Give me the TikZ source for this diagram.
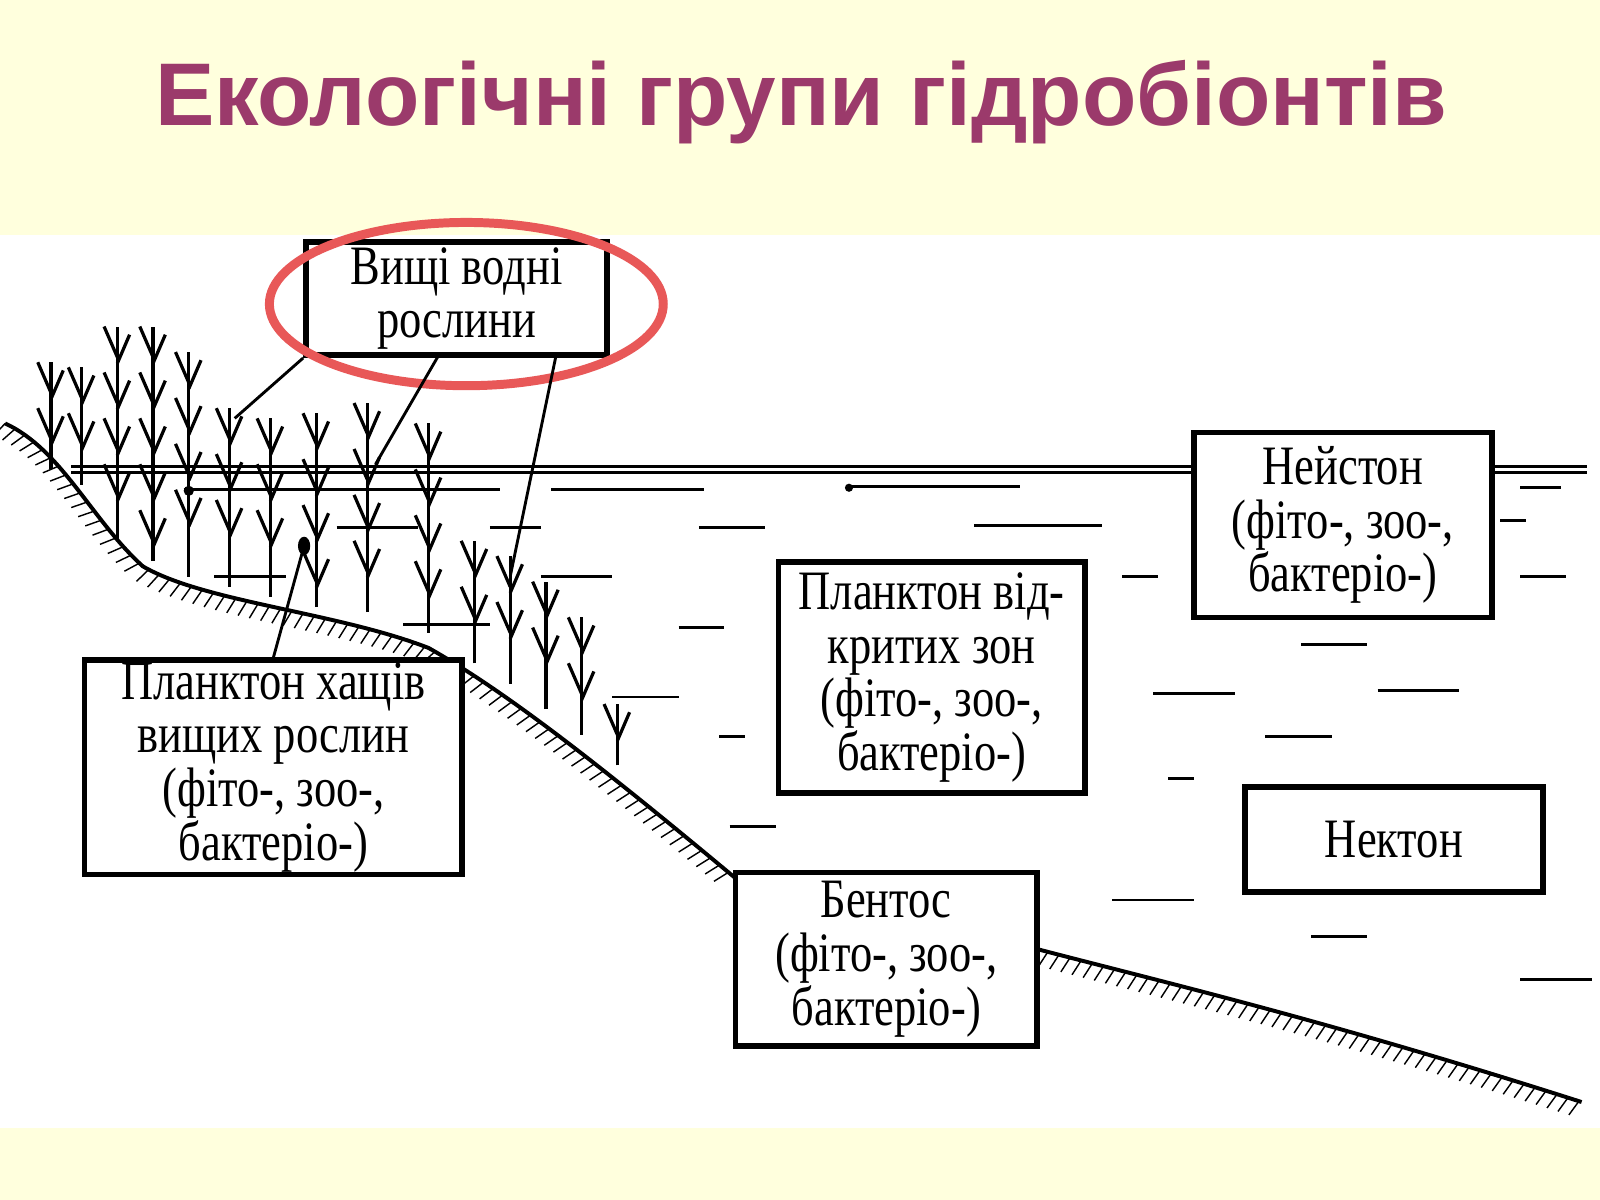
\documentclass[tikz,border=0pt]{standalone}
\usepackage{fontspec}
\setmainfont{Liberation Serif}
\newfontfamily\boxfont[FakeStretch=0.8]{Liberation Serif}
\newfontfamily\titlefont{Liberation Sans}
\usetikzlibrary{decorations.markings}
\definecolor{bgy}{HTML}{FFFFDD}
\definecolor{ttl}{HTML}{9B3A6B}
\definecolor{ring}{HTML}{E85858}
\tikzset{
 lbl/.style={draw,line width=1.6pt,align=center,font=\boxfont\fontsize{15.5}{15}\selectfont,inner sep=0pt},
 wl/.style={line width=0.8pt},
 shore/.style={line width=1.1pt,postaction={decorate},decoration={markings,mark=between positions 0 and 1 step 3.2pt with {\draw[line width=0.4pt] (0,0)--(-1.5pt,-4.5pt);}}},
 stem/.style={line width=0.9pt}
}
\newcommand{\plant}[3]{%
 \draw[stem] (#1,#2)--(#1,#3);
 \pgfmathsetmacro{\nb}{int((#2-#3)/45)-1}%
 \foreach \k in {0,...,\nb}{\pgfmathsetmacro{\yb}{#3+\k*45+30}
   \draw[stem] (#1,\yb)--++(-13,-30) (#1,\yb+6)--++(12,-28);}}
\begin{document}
\begin{tikzpicture}[x=0.01cm,y=-0.01cm]
\useasboundingbox (0,0) rectangle (1568,1176);
\fill[bgy] (0,0) rectangle (1568,230);
\fill[bgy] (0,1105) rectangle (1568,1176);
\node[text=ttl,font=\titlefont\bfseries\fontsize{24.8}{30}\selectfont] (title) at (785,100) {Екологічні групи гідробіонтів};
% water
\draw[wl] (70,457)--(1555,457);
\draw[wl] (70,463)--(1170,463) (1462,463)--(1555,463);
\foreach \a/\b/\y in {180/490/480,540/690/480,830/1000/477,330/410/517,480/530/517,685/750/517,955/1080/515,210/280/565,530/600/565,1100/1135/565,1490/1535/565,395/480/612,665/710/615,1275/1340/632,600/665/683,1130/1210/680,1350/1430/677,705/730/722,1240/1305/722,1145/1170/763,715/760/810,1090/1170/882,1285/1340/918,1490/1560/960,1470/1495/510,1490/1530/478}
 \draw[wl] (\a,\y)--(\b,\y);
\fill (185,481) circle (5);
\fill (832,478) circle (4);
% shore
\draw[shore] (5,415) .. controls (60,440) and (90,510) .. (140,555) .. controls (200,590) and (330,600) .. (420,635) .. controls (500,680) and (600,760) .. (720,860);
\draw[shore] (1016,930) .. controls (1150,965) and (1300,1000) .. (1550,1080);
% plants
\foreach \x/\b/\t in {50/460/355,80/475/360,115/530/320,150/550/320,185/565/345,225/575/400,265/585/410,310/595/405,360/600/395,420/620/415,465/650/530,500/670/545,535/695/570,570/720/605,605/750/690}
 {\plant{\x}{\b}{\t}}
% boxes
\node[lbl,minimum width=2.95cm,minimum height=1.11cm,fill=white] (vyshchi) at (447.5,292.5) {Вищі водні\\рослини};
\node[lbl,minimum width=3.7cm,minimum height=2.1cm,fill=white] (khashchi) at (268,752) {Планктон хащів\\вищих рослин\\(фіто-, зоо-,\\бактеріо-)};
\node[lbl,minimum width=3cm,minimum height=2.26cm,fill=white] (vidkr) at (913,664) {Планктон від-\\критих зон\\(фіто-, зоо-,\\бактеріо-)};
\node[lbl,minimum width=2.92cm,minimum height=1.81cm,fill=white] (neist) at (1316,514.5) {Нейстон\\(фіто-, зоо-,\\бактеріо-)};
\node[lbl,minimum width=2.92cm,minimum height=1.03cm,fill=white] (nekt) at (1366,822.5) {Нектон};
\node[lbl,minimum width=2.95cm,minimum height=1.7cm,fill=white] (bent) at (868.5,940) {Бентос\\(фіто-, зоо-,\\бактеріо-)};
\draw[ring,line width=2.5pt] (457,298) ellipse (193 and 80);
% leaders
\coordinate (p1) at (230,410); \coordinate (p2) at (368,455); \coordinate (p3) at (500,565); \coordinate (p4) at (298,535);
\draw[wl] (vyshchi.south west)--(p1);
\draw[wl] (430,348)--(p2);
\draw[wl] (545,348)--(p3);
\draw[wl] (khashchi.north)--(p4);
\fill (p4) ellipse (6 and 9);
\end{tikzpicture}
\end{document}
